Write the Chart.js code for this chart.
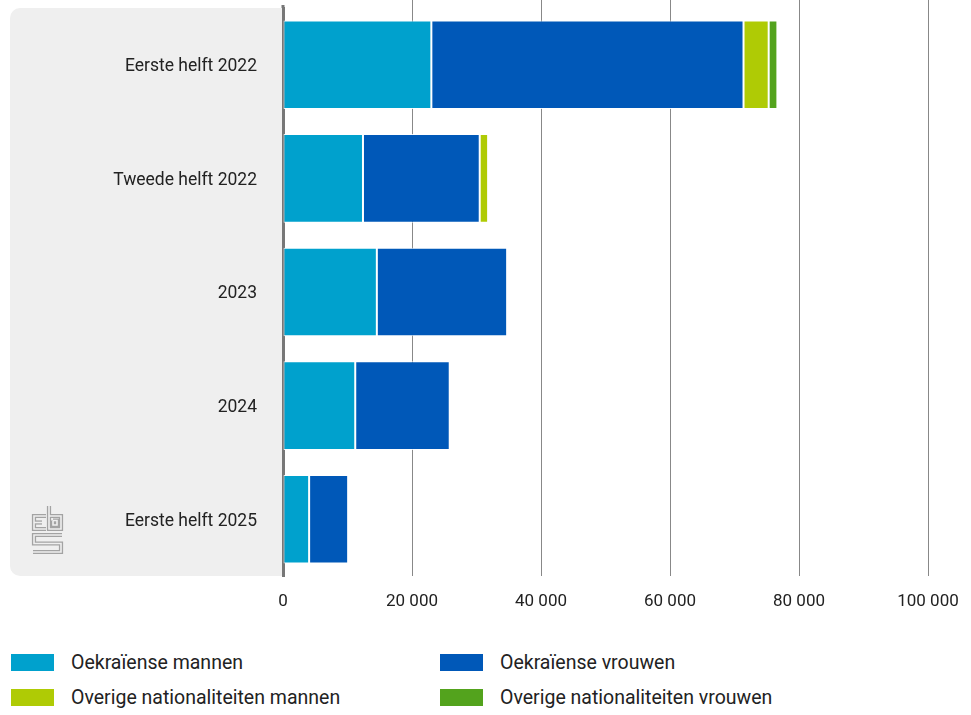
<!DOCTYPE html>
<html>
<head>
<meta charset="utf-8">
<script src="https://cdn.jsdelivr.net/npm/chart.js@4"></script>
<style>
  body { margin: 0; background: #fff; font-family: Roboto, sans-serif; }
  #wrap { position: relative; width: 971px; height: 625px; }
  #legenda { position: relative; width: 971px; height: 90px; }
  .item { position: absolute; display: flex; align-items: center; font-size: 19.5px; color: #222; }
  .vak { width: 43px; height: 17px; margin-right: 17px; }
</style>
</head>
<body>
<div id="wrap"><canvas id="grafiek"></canvas></div>
<div id="legenda"></div>
<script>
// Gegevens
const perioden = ['Eerste helft 2022', 'Tweede helft 2022', '2023', '2024', 'Eerste helft 2025'];
const oekraineMannen = [23000, 12400, 14550, 11200, 4050];
const oekraineVrouwen = [48400, 18100, 20200, 14650, 6050];
const overigeMannen = [3900, 1300, 0, 0, 0];
const overigeVrouwen = [1350, 0, 0, 0, 0];
const xTicks = [0, 20000, 40000, 60000, 80000, 100000];

const reeksen = [
    { label: 'Oekraïense mannen', data: oekraineMannen, kleur: '#00a1cd' },
    { label: 'Oekraïense vrouwen', data: oekraineVrouwen, kleur: '#0058b8' },
    { label: 'Overige nationaliteiten mannen', data: overigeMannen, kleur: '#afcb05' },
    { label: 'Overige nationaliteiten vrouwen', data: overigeVrouwen, kleur: '#53a31d' }
];

const lettertype = 'Roboto, sans-serif';

// cbs-logo als dubbele lijnen
function tekenLogo(ctx) {
    const paden = [
        [[46, 516], [34, 516], [34, 529], [46, 529]],
        [[34, 522.5], [42, 522.5]],
        [[49, 506], [49, 529], [61, 529], [61, 516], [49, 516]],
        [[53, 520.5], [57, 520.5], [57, 525], [53, 525], [53, 520.5]],
        [[62, 535], [34, 535], [34, 543.5], [61, 543.5], [61, 552], [33, 552]]
    ];
    [['#a3a3a3', 4.2], ['#efefef', 1.6]].forEach(([kleur, dikte]) => {
        ctx.strokeStyle = kleur;
        ctx.lineWidth = dikte;
        ctx.lineJoin = 'miter';
        paden.forEach(p => {
            ctx.beginPath();
            p.forEach(([x, y], i) => i ? ctx.lineTo(x, y) : ctx.moveTo(x, y));
            ctx.stroke();
        });
    });
}

// grijs vlak achter de labels, rasterlijnen tot bovenrand en logo
const achtergrond = {
    id: 'achtergrond',
    beforeDraw(chart) {
        const { ctx, chartArea, scales } = chart;
        ctx.save();
        ctx.fillStyle = '#efefef';
        ctx.beginPath();
        ctx.roundRect(10, chartArea.top, chartArea.left - 10, chartArea.bottom - chartArea.top, [10, 0, 0, 10]);
        ctx.fill();
        ctx.strokeStyle = '#888';
        ctx.lineWidth = 1;
        xTicks.slice(1).forEach(v => {
            const x = Math.round(scales.x.getPixelForValue(v)) + 0.5;
            ctx.beginPath();
            ctx.moveTo(x, 0);
            ctx.lineTo(x, chartArea.top);
            ctx.stroke();
        });
        ctx.beginPath();
        ctx.lineWidth = 3;
        ctx.strokeStyle = '#777';
        ctx.moveTo(chartArea.left, 5);
        ctx.lineTo(chartArea.left, chartArea.top);
        ctx.stroke();
        tekenLogo(ctx);
        ctx.restore();
    }
};

new Chart(document.getElementById('grafiek'), {
    type: 'bar',
    data: {
        labels: perioden,
        datasets: reeksen.map(r => ({
            label: r.label,
            data: r.data,
            backgroundColor: r.kleur,
            borderColor: 'rgba(255,255,255,0.85)',
            borderWidth: 1,
            borderSkipped: false,
            categoryPercentage: 1,
            barPercentage: 0.78
        }))
    },
    options: {
        indexAxis: 'y',
        responsive: true,
        maintainAspectRatio: false,
        animation: false,
        layout: { padding: { top: 8, right: 43, left: 0, bottom: 0 } },
        plugins: {
            legend: { display: false },
            tooltip: { enabled: false }
        },
        scales: {
            x: {
                stacked: true,
                min: 0,
                max: 100000,
                afterBuildTicks: scale => { scale.ticks = xTicks.map(v => ({ value: v })); },
                afterFit: scale => {
                    scale.height = 49;
                    scale.paddingLeft = 0;
                    scale.paddingRight = 0;
                },
                grid: { color: '#888', lineWidth: 1, drawTicks: false, tickLength: 0 },
                border: { display: false },
                ticks: {
                    padding: 16,
                    color: '#222',
                    font: { family: lettertype, size: 17 },
                    callback: v => v.toLocaleString('nl-NL').replace('.', ' ')
                }
            },
            y: {
                stacked: true,
                afterFit: scale => {
                    scale.width = 283;
                    scale.paddingTop = 0;
                    scale.paddingBottom = 0;
                },
                grid: { display: false },
                border: { color: '#777', width: 3 },
                ticks: {
                    padding: 18,
                    labelOffset: 2,
                    color: '#222',
                    font: { family: lettertype, size: 17.5 }
                }
            }
        }
    },
    plugins: [achtergrond]
});

// legenda in twee kolommen
const legenda = document.getElementById('legenda');
const posities = [[11, 38], [440, 38], [11, 73], [440, 73]];
reeksen.forEach((r, i) => {
    const el = document.createElement('div');
    el.className = 'item';
    el.style.left = posities[i][0] + 'px';
    el.style.top = (posities[i][1] - 12) + 'px';
    el.innerHTML = `<span class="vak" style="background:${r.kleur}"></span><span>${r.label}</span>`;
    legenda.appendChild(el);
});
</script>
</body>
</html>
